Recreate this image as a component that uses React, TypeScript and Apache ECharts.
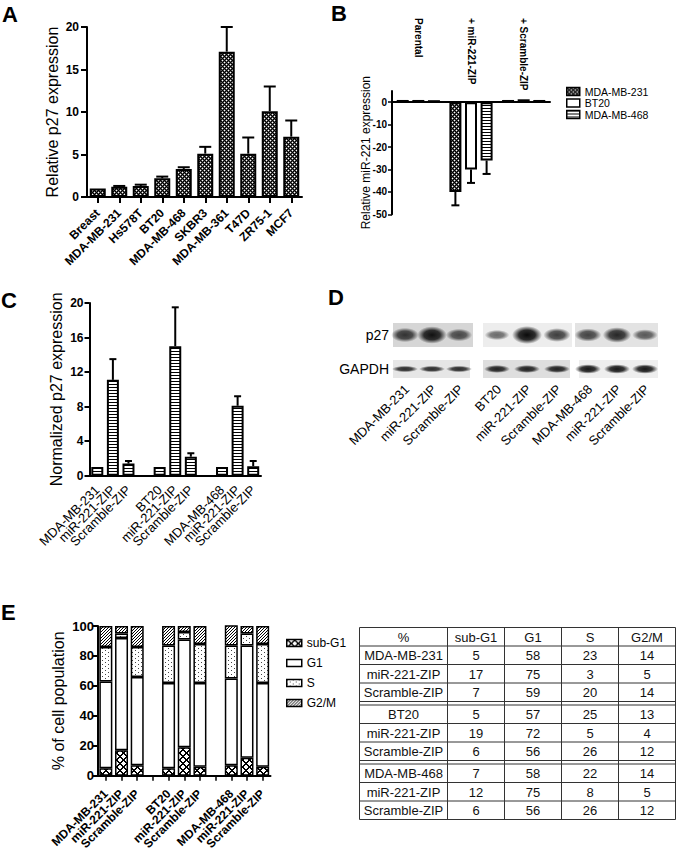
import React, { useEffect, useRef } from 'react';
import * as echarts from 'echarts';

const FONT = '"Liberation Sans", Arial, Helvetica, sans-serif';

// ---------- Panel A ----------
const aCategories = ['Breast', 'MDA-MB-231', 'Hs578T', 'BT20', 'MDA-MB-468', 'SKBR3', 'MDA-MB-361', 'T47D', 'ZR75-1', 'MCF7'];
const aValues = [1.0, 1.2, 1.3, 2.2, 3.3, 5.1, 17.1, 5.1, 10.1, 7.1];
const aErrorTops = [1.0, 1.3, 1.45, 2.4, 3.5, 5.9, 20, 7, 13, 9];
const aTicks = [0, 5, 10, 15, 20];

// ---------- Panel B ----------
const bGroups = ['Parental', '+ miR-221-ZIP', '+ Scramble-ZIP'];
const bCellLines = ['MDA-MB-231', 'BT20', 'MDA-MB-468'];
const bMda231 = [1.0, -40, 1.0];
const bBt20 = [1.0, -30, 1.3];
const bMda468 = [0.9, -26, 1.0];
const bMda231Err = [1.0, -46, 1.0];
const bBt20Err = [1.0, -36, 1.3];
const bMda468Err = [0.9, -32, 1.0];
const bTicks = [-50, -40, -30, -20, -10, 0];

// ---------- Panel C ----------
const cCategories = ['MDA-MB-231', 'miR-221-ZIP', 'Scramble-ZIP', '', 'BT20', 'miR-221-ZIP', 'Scramble-ZIP', '', 'MDA-MB-468', 'miR-221-ZIP', 'Scramble-ZIP'];
const cValues = [1.0, 11.1, 1.4, null, 1.0, 15.0, 2.2, null, 1.0, 8.1, 1.1];
const cErrorTops = [1.0, 13.5, 1.7, null, 1.0, 19.5, 2.6, null, 1.0, 9.2, 1.7];
const cTicks = [0, 4, 8, 12, 16, 20];

// ---------- Panel D ----------
const dLanes = ['MDA-MB-231', 'miR-221-ZIP', 'Scramble-ZIP', 'BT20', 'miR-221-ZIP', 'Scramble-ZIP', 'MDA-MB-468', 'miR-221-ZIP', 'Scramble-ZIP'];
const dP27Intensity = [0.7, 0.95, 0.55, 0.35, 1.0, 0.65, 0.6, 0.8, 0.45];
const dGapdhIntensity = [0.85, 0.85, 0.85, 0.9, 0.9, 0.9, 0.95, 0.95, 0.95];

// ---------- Panel E ----------
const eRows = ['MDA-MB-231', 'miR-221-ZIP', 'Scramble-ZIP', 'BT20', 'miR-221-ZIP', 'Scramble-ZIP', 'MDA-MB-468', 'miR-221-ZIP', 'Scramble-ZIP'];
const eHeader = ['%', 'sub-G1', 'G1', 'S', 'G2/M'];
const ePhases = ['sub-G1', 'G1', 'S', 'G2/M'];
const eSubG1 = [5, 17, 7, 5, 19, 6, 7, 12, 6];
const eG1 = [58, 75, 59, 57, 72, 56, 58, 75, 56];
const eS = [23, 3, 20, 25, 5, 26, 22, 8, 26];
const eG2M = [14, 5, 14, 13, 4, 12, 14, 5, 12];
const eTicks = [0, 20, 40, 60, 80, 100];

// ---------- helpers ----------
function makePattern(w: number, h: number, draw: (ctx: CanvasRenderingContext2D) => void) {
  const c = document.createElement('canvas');
  c.width = w;
  c.height = h;
  const ctx = c.getContext('2d') as CanvasRenderingContext2D;
  ctx.fillStyle = '#fff';
  ctx.fillRect(0, 0, w, h);
  draw(ctx);
  return { image: c, repeat: 'repeat', imageWidth: w, imageHeight: h } as any;
}
function px(ctx: CanvasRenderingContext2D, x: number, y: number, col = '#000') {
  ctx.fillStyle = col;
  ctx.fillRect(x, y, 1, 1);
}
function withGaps(arr: number[]) {
  return [arr[0], arr[1], arr[2], null, arr[3], arr[4], arr[5], null, arr[6], arr[7], arr[8]];
}
function errRender(offset: number, cap: number, lw: number) {
  return (_params: any, api: any) => {
    const i = api.value(0);
    const v = api.value(1);
    const e = api.value(2);
    const a = api.coord([i, v]);
    const b = api.coord([i, e]);
    const x = a[0] + offset;
    return {
      type: 'group',
      children: [
        { type: 'line', shape: { x1: x, y1: a[1], x2: x, y2: b[1] }, style: { stroke: '#000', lineWidth: lw } },
        { type: 'line', shape: { x1: x - cap / 2, y1: b[1], x2: x + cap / 2, y2: b[1] }, style: { stroke: '#000', lineWidth: lw } },
      ],
    };
  };
}
function errData(vals: (number | null)[], errs: (number | null)[]) {
  const out: number[][] = [];
  vals.forEach((v, i) => {
    const e = errs[i];
    if (v != null && e != null && e !== v) out.push([i, v, e]);
  });
  return out;
}

const axisLineStyle = (w: number) => ({ show: true, onZero: true, lineStyle: { color: '#000', width: w } });

function buildOption() {
  const pCheck = makePattern(4, 4, (ctx) => {
    for (let y = 0; y < 4; y++)
      for (let x = 0; x < 4; x++) {
        const a = (x + y) % 4 === 0 || (x - y + 4) % 4 === 0;
        const b = (x + y) % 4 === 2 && (x - y + 4) % 4 === 2;
        if (a) px(ctx, x, y);
        else if (!b) px(ctx, x, y, '#555');
      }
  });
  const pStripe = makePattern(4, 3, (ctx) => {
    ctx.fillStyle = '#000';
    ctx.fillRect(0, 0, 4, 1);
  });
  const pCross = makePattern(7, 7, (ctx) => {
    for (let y = 0; y < 7; y++) for (let x = 0; x < 7; x++) if ((x + y) % 7 < 2 || (x - y + 7) % 7 < 2) px(ctx, x, y);
  });
  const pDots = makePattern(6, 4, (ctx) => {
    px(ctx, 0, 0, '#444');
    px(ctx, 3, 2, '#444');
  });
  const pDiag = makePattern(3, 3, (ctx) => {
    for (let y = 0; y < 3; y++) for (let x = 0; x < 3; x++) if ((x + y) % 3 === 0) px(ctx, x, y);
  });

  // ----- graphic elements -----
  const g: any[] = [];
  const letter = (t: string, x: number, y: number) =>
    g.push({ type: 'text', x, y, silent: true, style: { text: t, fontSize: 22, fontWeight: 'bold', fontFamily: FONT, fill: '#000', align: 'left', verticalAlign: 'top' } });
  letter('A', 2, 3);
  letter('B', 331, 2);
  letter('C', 1, 289);
  letter('D', 328, 286);
  letter('E', 1, 601);

  // Panel D blot
  const p27Y = [323, 347];
  const gapY = [360, 378];
  const p27Panels = [[393, 473], [483, 572], [575, 658]];
  const gapPanels = [[393, 470], [483, 570], [579, 658]];
  const p27Bg = ['#d6d6d6', '#ededed', '#e3e3e3'];
  const gapBg = ['#e6e6e6', '#dedede', '#eeeeee'];
  const laneX = [405, 432, 459, 497, 527, 557, 588, 617, 645];
  p27Panels.forEach((p, k) => g.push({ type: 'rect', silent: true, shape: { x: p[0], y: p27Y[0], width: p[1] - p[0], height: p27Y[1] - p27Y[0] }, style: { fill: p27Bg[k] } }));
  gapPanels.forEach((p, k) => g.push({ type: 'rect', silent: true, shape: { x: p[0], y: gapY[0], width: p[1] - p[0], height: gapY[1] - gapY[0] }, style: { fill: gapBg[k] } }));
  const band = (cx: number, cy: number, rx: number, ry: number, a: number) =>
    g.push({
      type: 'ellipse', silent: true, shape: { cx, cy, rx, ry },
      style: {
        fill: new echarts.graphic.RadialGradient(0.5, 0.5, 0.5, [
          { offset: 0, color: `rgba(10,10,10,${a})` },
          { offset: 0.55, color: `rgba(10,10,10,${a * 0.85})` },
          { offset: 1, color: 'rgba(10,10,10,0)' },
        ]),
      },
    });
  dP27Intensity.forEach((v, i) => band(laneX[i], 335, 11 + 4 * v, 3 + 6 * v, 0.35 + 0.65 * v));
  dGapdhIntensity.forEach((v, i) => band(laneX[i], 369, 13, 3.2 + 1.5 * (v - 0.85) * 10, v));
  g.push({ type: 'text', x: 389, y: 335, silent: true, style: { text: 'p27', fontSize: 14, fontFamily: FONT, fill: '#000', align: 'right', verticalAlign: 'middle' } });
  g.push({ type: 'text', x: 389, y: 369, silent: true, style: { text: 'GAPDH', fontSize: 14, fontFamily: FONT, fill: '#000', align: 'right', verticalAlign: 'middle' } });
  dLanes.forEach((t, i) =>
    g.push({ type: 'text', x: laneX[i] + 2, y: 387, rotation: Math.PI / 4, silent: true, style: { text: t, fontSize: 13, fontFamily: FONT, fill: '#000', align: 'right', verticalAlign: 'middle' } })
  );

  // Panel E table
  const cols = [359.5, 447.5, 504.5, 561.5, 618.5, 675.5];
  const top = 627.5;
  const headH = 18.5;
  const rowH = 18.5;
  const gap = 3.5;
  const rowTop = (r: number) => top + headH + r * rowH + Math.floor(r / 3) * gap;
  const tableBottom = top + headH + 9 * rowH + 2 * gap;
  const line = (x1: number, y1: number, x2: number, y2: number) =>
    g.push({ type: 'line', silent: true, shape: { x1, y1, x2, y2 }, style: { stroke: '#333', lineWidth: 1 } });
  line(cols[0], top, cols[5], top);
  line(cols[0], top + headH, cols[5], top + headH);
  for (let r = 1; r <= 9; r++) {
    const y = top + headH + r * rowH + Math.floor((r - 1) / 3) * gap;
    line(cols[0], y, cols[5], y);
    if (r % 3 === 0 && r < 9) line(cols[0], y + gap, cols[5], y + gap);
  }
  cols.forEach((x) => line(x, top, x, tableBottom));
  const cellText = (t: string, c: number, cy: number) =>
    g.push({ type: 'text', silent: true, x: (cols[c] + cols[c + 1]) / 2, y: cy, style: { text: t, fontSize: 13, fontFamily: FONT, fill: '#111', align: 'center', verticalAlign: 'middle' } });
  eHeader.forEach((h, c) => cellText(h, c, top + headH / 2 + 0.5));
  const phaseCols = [eSubG1, eG1, eS, eG2M];
  eRows.forEach((name, r) => {
    const cy = rowTop(r) + rowH / 2 + 0.5;
    cellText(name, 0, cy);
    phaseCols.forEach((arr, c) => cellText(String(arr[r]), c + 1, cy));
  });

  const bLayout = { w: 12, gapFrac: 0.3 };
  const bStep = bLayout.w * (1 + bLayout.gapFrac);
  const bData = [bMda231, bBt20, bMda468];
  const bErr = [bMda231Err, bBt20Err, bMda468Err];
  const bFills = [pCheck, '#fff', pStripe];

  const catAxisBase = (grid: number, data: string[]) => ({
    type: 'category', gridIndex: grid, data, boundaryGap: true,
  });

  const option: any = {
    animation: false,
    backgroundColor: '#fff',
    textStyle: { fontFamily: FONT, color: '#000' },
    grid: [
      { left: 87, top: 27, width: 215, height: 170, outerBoundsMode: 'none', containLabel: false },
      { left: 392, top: 91, width: 158, height: 123.3, outerBoundsMode: 'none', containLabel: false },
      { left: 89.5, top: 303, width: 171.5, height: 172.7, outerBoundsMode: 'none', containLabel: false },
      { left: 98, top: 626, width: 172.5, height: 149.7, outerBoundsMode: 'none', containLabel: false },
    ],
    xAxis: [
      {
        ...catAxisBase(0, aCategories),
        axisLine: axisLineStyle(2),
        axisTick: { show: true, alignWithLabel: true, length: 6, lineStyle: { color: '#000', width: 2 } },
        axisLabel: { interval: 0, hideOverlap: false, rotate: 45, margin: 14, fontSize: 12, fontWeight: 'bold', color: '#000', fontFamily: FONT },
        splitLine: { show: false },
      },
      {
        ...catAxisBase(1, bGroups),
        position: 'bottom',
        axisLine: axisLineStyle(2),
        axisTick: { show: false },
        axisLabel: { show: false },
        splitLine: { show: false },
      },
      {
        ...catAxisBase(1, bGroups),
        position: 'top',
        offset: 73,
        axisLine: { show: false, onZero: false },
        axisTick: { show: false },
        axisLabel: { interval: 0, hideOverlap: false, inside: true, rotate: 90, margin: 0, fontSize: 10, fontWeight: 'bold', color: '#000', fontFamily: FONT },
        splitLine: { show: false },
      },
      {
        ...catAxisBase(2, cCategories),
        axisLine: axisLineStyle(2),
        axisTick: { show: false },
        axisLabel: { interval: 0, hideOverlap: false, rotate: 45, margin: 12, fontSize: 13, color: '#000', fontFamily: FONT },
        splitLine: { show: false },
      },
      {
        ...catAxisBase(3, cCategories),
        axisLine: axisLineStyle(2),
        axisTick: { show: true, interval: 0, alignWithLabel: true, length: 5, lineStyle: { color: '#000', width: 1.5 } },
        axisLabel: { interval: 0, hideOverlap: false, rotate: 45, margin: 16, fontSize: 12, fontWeight: 'bold', color: '#000', fontFamily: FONT },
        splitLine: { show: false },
      },
    ],
    yAxis: [
      {
        type: 'value', gridIndex: 0, min: 0, max: 20, interval: 5,
        name: 'Relative p27 expression', nameLocation: 'middle', nameGap: 27, nameMoveOverlap: false,
        nameTextStyle: { fontSize: 16, fontFamily: FONT, color: '#000' },
        axisLine: { show: true, lineStyle: { color: '#000', width: 2 } },
        axisTick: { show: true, length: 6, lineStyle: { color: '#000', width: 2 } },
        axisLabel: { margin: 8, fontSize: 12, fontWeight: 'bold', color: '#000', fontFamily: FONT, customValues: aTicks },
        splitLine: { show: false },
      },
      {
        type: 'value', gridIndex: 1, min: -50, max: 5, interval: 10,
        name: 'Relative miR-221 expression', nameLocation: 'middle', nameGap: 20, nameMoveOverlap: false,
        nameTextStyle: { fontSize: 12, fontFamily: FONT, color: '#000' },
        axisLine: { show: true, lineStyle: { color: '#000', width: 2 } },
        axisTick: { show: true, length: 4, lineStyle: { color: '#000', width: 1.5 }, customValues: bTicks },
        axisLabel: { margin: 5, fontSize: 10, fontWeight: 'bold', color: '#000', fontFamily: FONT, customValues: bTicks },
        splitLine: { show: false },
      },
      {
        type: 'value', gridIndex: 2, min: 0, max: 20, interval: 4,
        name: 'Normalized p27 expression', nameLocation: 'middle', nameGap: 25, nameMoveOverlap: false,
        nameTextStyle: { fontSize: 16, fontFamily: FONT, color: '#000' },
        axisLine: { show: true, lineStyle: { color: '#000', width: 2 } },
        axisTick: { show: true, length: 5, lineStyle: { color: '#000', width: 2 } },
        axisLabel: { margin: 6, fontSize: 12, fontWeight: 'bold', color: '#000', fontFamily: FONT, customValues: cTicks },
        splitLine: { show: false },
      },
      {
        type: 'value', gridIndex: 3, min: 0, max: 100, interval: 20,
        name: '% of cell population', nameLocation: 'middle', nameGap: 32, nameMoveOverlap: false,
        nameTextStyle: { fontSize: 16, fontFamily: FONT, color: '#000' },
        axisLine: { show: true, lineStyle: { color: '#000', width: 2 } },
        axisTick: { show: true, length: 5, lineStyle: { color: '#000', width: 2 } },
        axisLabel: { margin: 4, fontSize: 13, fontWeight: 'bold', color: '#000', fontFamily: FONT, customValues: eTicks },
        splitLine: { show: false },
      },
    ],
    legend: [
      {
        data: bCellLines, orient: 'vertical', left: 561, top: 81, itemWidth: 13, itemHeight: 8, itemGap: 0.5,
        icon: 'rect', selectedMode: false,
        itemStyle: { borderColor: '#000', borderWidth: 1.5 },
        textStyle: { fontSize: 10.5, fontFamily: FONT, color: '#000' },
      },
      {
        data: ePhases, orient: 'vertical', left: 281, top: 632, itemWidth: 15, itemHeight: 7, itemGap: 8,
        icon: 'rect', selectedMode: false,
        itemStyle: { borderColor: '#000', borderWidth: 1.5 },
        textStyle: { fontSize: 12, fontFamily: FONT, color: '#000' },
      },
    ],
    series: [
      {
        type: 'bar', name: 'p27 expression', xAxisIndex: 0, yAxisIndex: 0, data: aValues, barWidth: 16,
        itemStyle: { color: pCheck, borderColor: '#000', borderWidth: 2 }, silent: true,
      },
      {
        type: 'custom', name: 'A error', xAxisIndex: 0, yAxisIndex: 0, data: errData(aValues, aErrorTops),
        encode: { x: 0, y: [1, 2] }, renderItem: errRender(0, 12, 2), silent: true, z: 1,
      },
      ...bCellLines.map((name, k) => ({
        type: 'bar', name, xAxisIndex: 1, yAxisIndex: 1, data: bData[k], barWidth: bLayout.w, barGap: '30%',
        itemStyle: { color: bFills[k], borderColor: '#000', borderWidth: 2 }, silent: true,
      })),
      ...bCellLines.map((name, k) => ({
        type: 'custom', name: name + ' error', xAxisIndex: 1, yAxisIndex: 1, data: errData(bData[k], bErr[k]),
        encode: { x: 0, y: [1, 2] }, renderItem: errRender((k - 1) * bStep, 8, 2), silent: true, z: 1,
      })),
      {
        type: 'bar', name: 'normalized p27', xAxisIndex: 3, yAxisIndex: 2, data: cValues, barWidth: 12,
        itemStyle: { color: pStripe, borderColor: '#000', borderWidth: 2 }, silent: true,
      },
      {
        type: 'custom', name: 'C error', xAxisIndex: 3, yAxisIndex: 2, data: errData(cValues, cErrorTops),
        encode: { x: 0, y: [1, 2] }, renderItem: errRender(0, 7, 2), silent: true, z: 1,
      },
      ...ePhases.map((name, k) => ({
        type: 'bar', name, stack: 'cycle', xAxisIndex: 4, yAxisIndex: 3,
        data: withGaps([eSubG1, eG1, eS, eG2M][k]), barWidth: 13,
        itemStyle: { color: [pCross, '#fff', pDots, pDiag][k], borderColor: '#000', borderWidth: 1.5 }, silent: true,
      })),
    ],
    graphic: { elements: g },
  };
  return option;
}

export default function App() {
  const ref = useRef<HTMLDivElement>(null);
  useEffect(() => {
    if (!ref.current) return;
    const chart = echarts.init(ref.current, null, { renderer: 'svg' });
    chart.setOption(buildOption());
    return () => chart.dispose();
  }, []);
  return <div ref={ref} style={{ position: 'absolute', left: 0, top: 0, width: 676, height: 853, background: '#fff' }} />;
}
